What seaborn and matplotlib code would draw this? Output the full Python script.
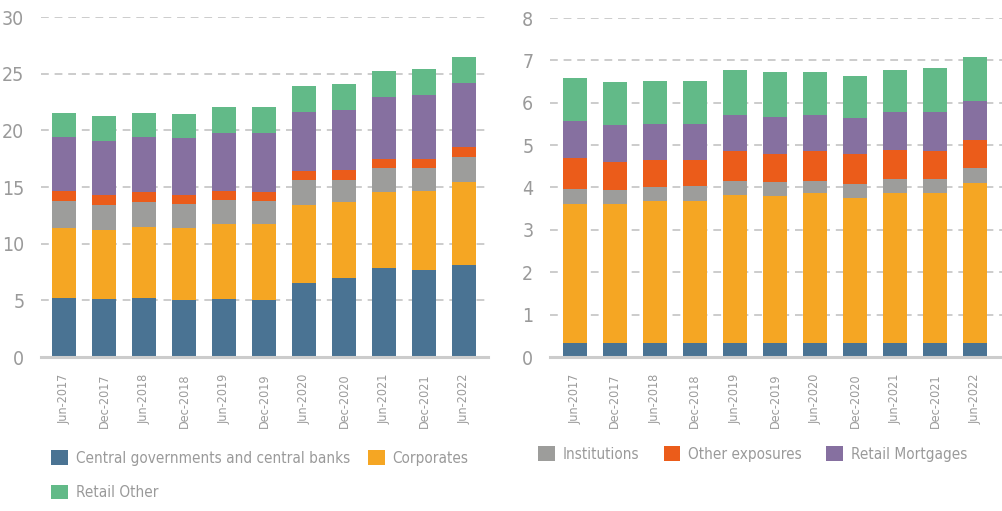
import numpy as np
import pandas as pd
import seaborn as sns
import matplotlib
matplotlib.use("Agg")
import matplotlib.pyplot as plt
from matplotlib import font_manager as fm
from matplotlib.patches import Patch

# ---- data -------------------------------------------------------------
periods = ["Jun-2017", "Dec-2017", "Jun-2018", "Dec-2018", "Jun-2019", "Dec-2019",
           "Jun-2020", "Dec-2020", "Jun-2021", "Dec-2021", "Jun-2022"]

series_names = ["Central governments and central banks", "Corporates", "Institutions",
                "Other exposures", "Retail Mortgages", "Retail Other"]

# left panel (exposure values)
left_central = [5.24, 5.15, 5.24, 5.06, 5.15, 5.06, 6.56, 7.00, 7.88, 7.71, 8.15]
left_corporates = [6.17, 6.09, 6.26, 6.35, 6.61, 6.70, 6.88, 6.71, 6.71, 6.97, 7.32]
left_institutions = [2.38, 2.20, 2.21, 2.12, 2.12, 2.03, 2.21, 1.94, 2.12, 2.03, 2.21]
left_other = [0.86, 0.82, 0.88, 0.79, 0.77, 0.80, 0.79, 0.88, 0.79, 0.79, 0.88]
left_mortgages = [4.79, 4.83, 4.85, 5.03, 5.14, 5.20, 5.21, 5.29, 5.47, 5.65, 5.65]
left_retail_other = [2.12, 2.20, 2.12, 2.12, 2.30, 2.30, 2.29, 2.30, 2.29, 2.29, 2.29]

# right panel
right_central = [0.32, 0.34, 0.34, 0.34, 0.34, 0.34, 0.32, 0.32, 0.32, 0.32, 0.32]
right_corporates = [3.30, 3.26, 3.33, 3.35, 3.49, 3.47, 3.54, 3.44, 3.56, 3.56, 3.79]
right_institutions = [0.35, 0.35, 0.35, 0.35, 0.33, 0.33, 0.30, 0.33, 0.31, 0.31, 0.36]
right_other = [0.73, 0.66, 0.64, 0.62, 0.69, 0.66, 0.69, 0.69, 0.70, 0.68, 0.66]
right_mortgages = [0.88, 0.87, 0.85, 0.85, 0.87, 0.87, 0.87, 0.85, 0.88, 0.92, 0.92]
right_retail_other = [1.01, 1.02, 1.01, 1.01, 1.06, 1.06, 1.01, 1.01, 1.01, 1.04, 1.04]

left_ticks = [0, 5, 10, 15, 20, 25, 30]
right_ticks = [0, 1, 2, 3, 4, 5, 6, 7, 8]

colors = ["#4a7393", "#f5a623", "#9d9d9b", "#eb5c1a", "#8670a0", "#62ba88"]
text_color = "#9a9a9a"

# ---- styling ----------------------------------------------------------
sns.set_theme(style="white")

names = {f.name for f in fm.fontManager.ttflist}
stretch = "normal"
if "Liberation Sans Narrow" in names:
    family = "Liberation Sans Narrow"
elif any(f.name == "DejaVu Sans" and f.stretch == "condensed" for f in fm.fontManager.ttflist):
    family, stretch = "DejaVu Sans", "condensed"
elif "Roboto Condensed" in names:
    family = "Roboto Condensed"
else:
    family = "Roboto"
plt.rcParams["font.family"] = [family, "DejaVu Sans"]
plt.rcParams["font.stretch"] = stretch
plt.rcParams["font.weight"] = "light"

fig = plt.figure(figsize=(10.03, 5.11), dpi=100)
ax_left = fig.add_axes([41 / 1003, 154 / 511, 447 / 1003, 340 / 511])
ax_right = fig.add_axes([550 / 1003, 154 / 511, 453 / 1003, 339 / 511])


def draw_panel(ax, layers, ticks, xlim):
    frame = pd.DataFrame(dict(zip(series_names, layers)))
    frame["period"] = periods
    cumulative = frame[series_names].cumsum(axis=1)
    # draw running totals from the top layer down so each segment shows through
    for name, color in reversed(list(zip(series_names, colors))):
        sns.barplot(x=frame["period"], y=cumulative[name], color=color,
                    width=0.6, saturation=1, linewidth=0, ax=ax, zorder=3)
    ax.set_xlim(*xlim)
    ax.set_ylim(ticks[0], ticks[-1])
    ax.set_yticks(ticks)
    ax.set_yticklabels([str(t) for t in ticks])
    ax.set_xlabel("")
    ax.set_ylabel("")
    ax.yaxis.grid(True, color="#cccccc", linestyle=(0, (4, 3)), linewidth=1.4, zorder=0)
    ax.xaxis.grid(False)
    for side in ["top", "right", "left"]:
        ax.spines[side].set_visible(False)
    ax.spines["bottom"].set_color("#cccccc")
    ax.spines["bottom"].set_linewidth(2.2)
    ax.spines["bottom"].set_zorder(4)
    ax.tick_params(axis="y", length=0, pad=12, labelsize=14, labelcolor=text_color)
    ax.tick_params(axis="x", length=0, pad=12, labelsize=9, labelcolor=text_color,
                   labelrotation=90)


draw_panel(ax_left, [left_central, left_corporates, left_institutions, left_other,
                     left_mortgages, left_retail_other], left_ticks, (-0.58, 10.6))
draw_panel(ax_right, [right_central, right_corporates, right_institutions, right_other,
                      right_mortgages, right_retail_other], right_ticks, (-0.62, 10.7))

handles = [Patch(facecolor=c, edgecolor="none") for c in colors]

# legend under the left panel: two entries on the first row, one on the second
fig.legend([handles[0], handles[5], handles[1]],
           [series_names[0], series_names[5], series_names[1]],
           ncol=2, loc="upper left", bbox_to_anchor=(45 / 1003, 1 - 444 / 511),
           frameon=False, fontsize=11, labelcolor=text_color,
           handlelength=1.1, handleheight=1.1, handletextpad=0.5,
           columnspacing=1.2, labelspacing=1.25, borderaxespad=0)

# legend under the right panel
fig.legend(handles[2:5], series_names[2:5],
           ncol=3, loc="upper left", bbox_to_anchor=(532 / 1003, 1 - 440 / 511),
           frameon=False, fontsize=11, labelcolor=text_color,
           handlelength=1.1, handleheight=1.1, handletextpad=0.5,
           columnspacing=1.6, borderaxespad=0)

fig.savefig("out.png", dpi=100)
